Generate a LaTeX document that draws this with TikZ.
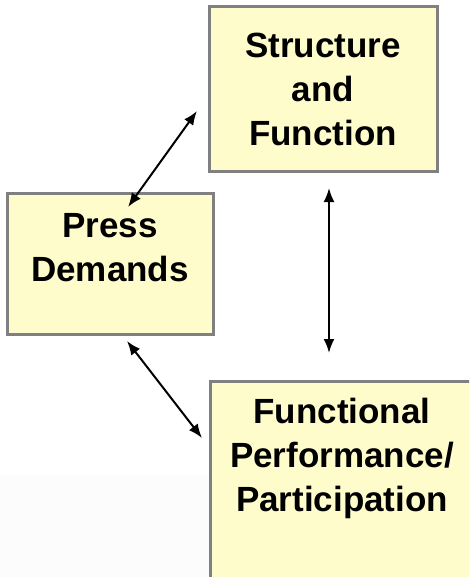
\documentclass[tikz,border=0pt]{standalone}
\usepackage{fontspec}
\setmainfont{Liberation Sans}
\usetikzlibrary{arrows.meta}
\begin{document}
\begin{tikzpicture}[x=1pt,y=-1pt]

% definitions
\tikzstyle{box} = [rectangle, draw=gray!100!black, line width=3pt, fill=yellow!20, inner sep=0pt]
\tikzstyle{label} = [align=center, font=\bfseries\fontsize{35}{44}\selectfont, inner sep=0pt]
\tikzstyle{arrow} = [{Latex[length=14pt,width=11pt]}-{Latex[length=14pt,width=11pt]}, line width=2pt]

\useasboundingbox (0,0) rectangle (469,577);
\clip (0,0) rectangle (469,577);

% background
\fill[gray!2] (0,475) rectangle (210,577);

% the graph
\node (sf) [box, minimum width=228pt, minimum height=165pt] at (323,89.5) {};
\node (pd) [box, minimum width=206pt, minimum height=140pt] at (110,264) {};
\node (fp) [box, minimum width=264pt, minimum height=230pt] at (342,496) {};

\node (sftext) [label] at (sf.center) {Structure\\and\\Function};
\node (pdtext) [label, anchor=north] at ([yshift=-21pt]pd.north) {Press\\Demands};
\node (fptext) [label, anchor=north] at ([yshift=-18pt]fp.north) {Functional\\Performance/\\Participation};

% arrow ends
\coordinate (a1) at (197,111);
\coordinate (a2) at (128,207);
\coordinate (b1) at (329,188);
\coordinate (b2) at (329,353);
\coordinate (c1) at (127,341);
\coordinate (c2) at (202,438);

\draw [arrow] (a1) -- (a2);
\draw [arrow] (b1) -- (b2);
\draw [arrow] (c1) -- (c2);

\end{tikzpicture}
\end{document}
